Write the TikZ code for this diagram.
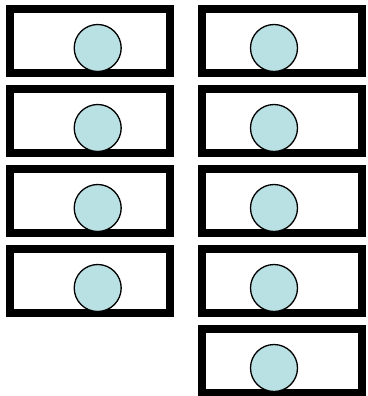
\documentclass[tikz,border=0pt]{standalone}
\usepackage{xcolor}
\usepackage{tikz}
\usetikzlibrary{shapes,positioning}
\definecolor{discblue}{RGB}{185,224,227}

\begin{document}
\begin{tikzpicture}[
    x=1pt, y=-1pt,
    slot/.style={rectangle, draw, line width=8pt, fill=white, minimum width=160pt, minimum height=64pt, inner sep=0pt},
    disc/.style={circle, draw, line width=1.3pt, fill=discblue, minimum size=47pt, inner sep=0pt}
]
    \useasboundingbox (0,0) rectangle (367,396);

    % Left column
    \node[slot] (left1) at (90,41) {};
    \node[slot] (left2) at (90,121) {};
    \node[slot] (left3) at (90,201) {};
    \node[slot] (left4) at (90,281) {};

    % Right column
    \node[slot] (right1) at (282,41) {};
    \node[slot] (right2) at (282,121) {};
    \node[slot] (right3) at (282,201) {};
    \node[slot] (right4) at (282,281) {};
    \node[slot] (right5) at (282,361) {};

    % Discs
    \node[disc] (dleft1) at (97.7,48) {};
    \node[disc] (dleft2) at (97.7,128) {};
    \node[disc] (dleft3) at (97.7,208) {};
    \node[disc] (dleft4) at (97.7,288) {};
    \node[disc] (dright1) at (274,48) {};
    \node[disc] (dright2) at (274,128) {};
    \node[disc] (dright3) at (274,208) {};
    \node[disc] (dright4) at (274,288) {};
    \node[disc] (dright5) at (274,368) {};
\end{tikzpicture}
\end{document}
